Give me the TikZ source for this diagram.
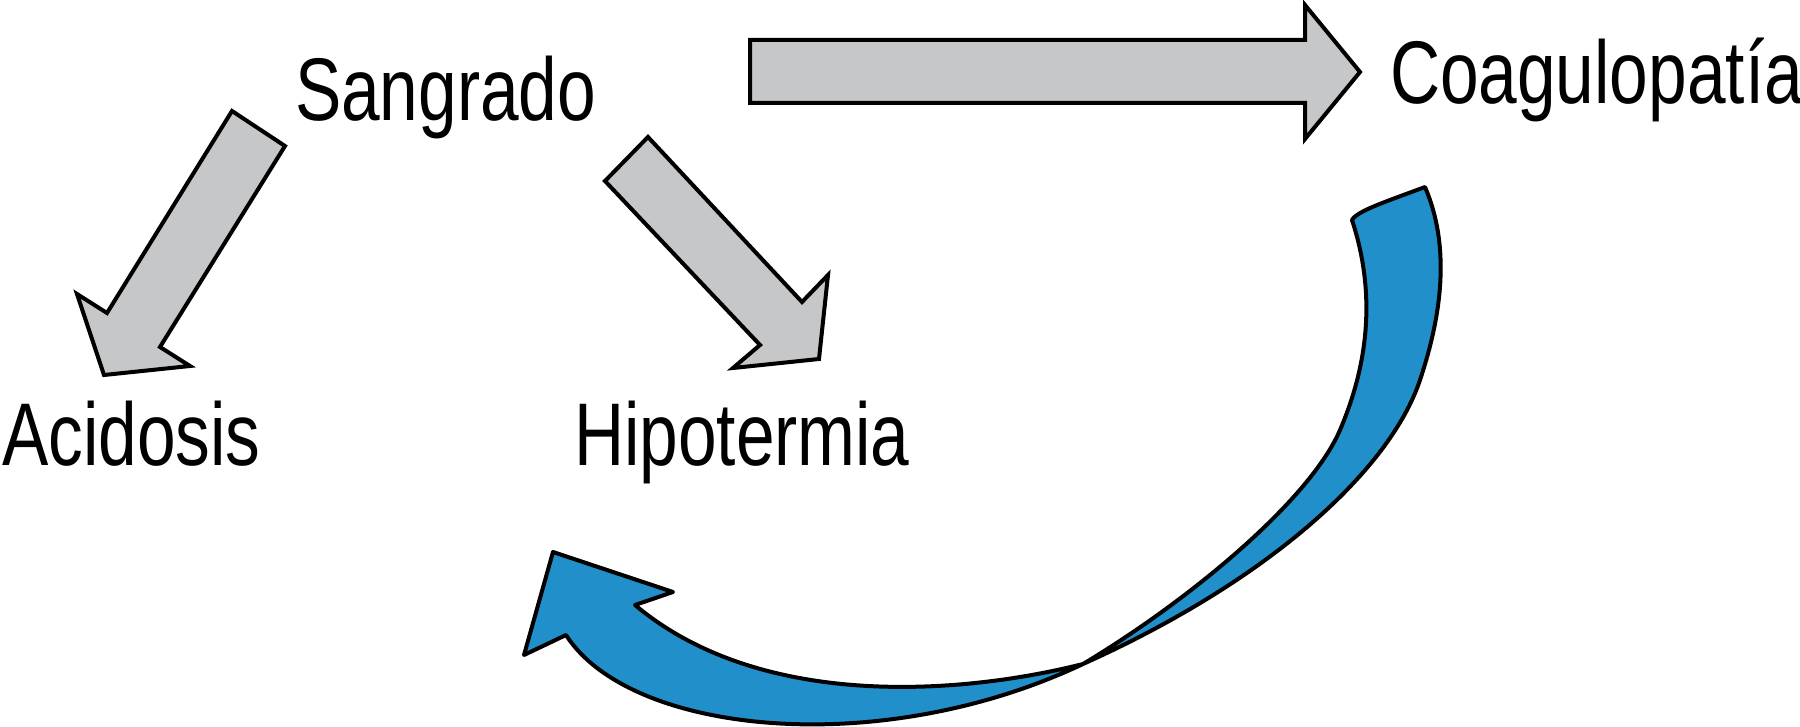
\documentclass[tikz,border=0pt]{standalone}
\usepackage{fontspec}
\setmainfont{Liberation Sans}
\newfontfamily\labfont[FakeStretch=0.78]{Liberation Sans}
\definecolor{arrowgray}{HTML}{C6C7C9}
\definecolor{arrowblue}{HTML}{2190CA}
\begin{document}
\begin{tikzpicture}[x=1pt,y=-1pt,line width=4pt,line join=miter,
  grayarrow/.style={draw=black,fill=arrowgray},
  bluearrow/.style={draw=black,fill=arrowblue,line join=round},
  lab/.style={inner sep=0pt,anchor=base west,font=\labfont\fontsize{89}{100}\selectfont}]
\useasboundingbox (0,0) rectangle (1800,727);

% labels
\node[lab] (sangrado) at (293,121) {Sangrado};
\node[lab] (acidosis) at (0,465) {Acidosis};
\node[lab] (hipotermia) at (572,465) {Hipotermia};
\node[lab] (coagulopatia) at (1388,104) {Coagulopatía};

% gray block arrows
\draw[grayarrow] (232,111) -- (285,146) -- (160,347) -- (190,366) -- (104,375) -- (77,294) -- (107,313) -- cycle;
\draw[grayarrow] (648,137) -- (605,181) -- (760,345) -- (733,368) -- (819,359) -- (828,275) -- (802,302) -- cycle;
\draw[grayarrow] (750,40) -- (1305,40) -- (1305,5) -- (1360,72) -- (1305,139) -- (1305,103) -- (750,103) -- cycle;

% blue curved arrow
\draw[bluearrow]
  (1352,220) .. controls (1375,290) and (1370,360) .. (1340,430)
  .. controls (1310,500) and (1190,600) .. (1083,664)
  .. controls (960,695) and (760,710) .. (635,605)
  -- (673,592) -- (553,552) -- (524,655) -- (566,635)
  .. controls (630,735) and (880,760) .. (1083,664)
  .. controls (1270,580) and (1390,470) .. (1420,380)
  .. controls (1440,320) and (1452,250) .. (1425,187)
  .. controls (1385,202) and (1357,211) .. (1352,220) -- cycle;
\end{tikzpicture}
\end{document}
